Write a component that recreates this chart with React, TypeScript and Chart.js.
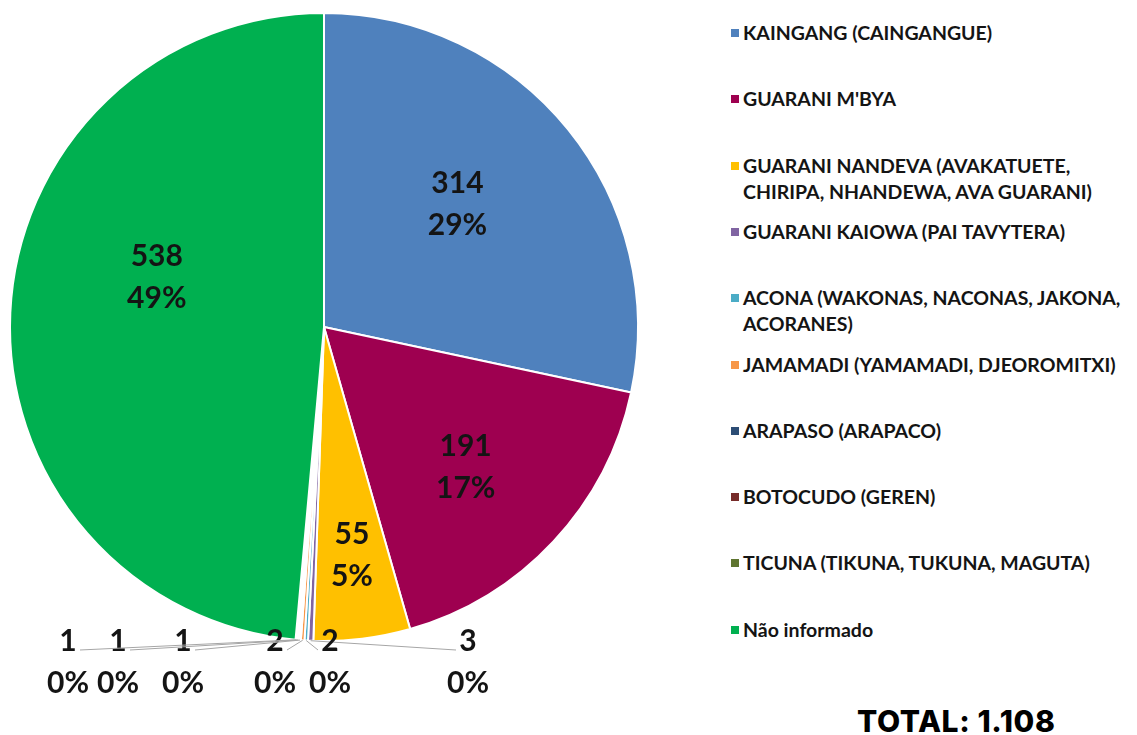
import React, { useEffect, useRef } from "react";
import { Chart, registerables } from "chart.js";

Chart.register(...registerables);

// ---------- data ----------
const categories = [
  "KAINGANG (CAINGANGUE)",
  "GUARANI M'BYA",
  "GUARANI NANDEVA (AVAKATUETE, CHIRIPA, NHANDEWA, AVA GUARANI)",
  "GUARANI KAIOWA (PAI TAVYTERA)",
  "ACONA (WAKONAS, NACONAS, JAKONA, ACORANES)",
  "JAMAMADI (YAMAMADI, DJEOROMITXI)",
  "ARAPASO (ARAPACO)",
  "BOTOCUDO (GEREN)",
  "TICUNA (TIKUNA, TUKUNA, MAGUTA)",
  "Não informado",
];
const values = [314, 191, 55, 3, 2, 2, 1, 1, 1, 538];
const percentLabels = ["29%", "17%", "5%", "0%", "0%", "0%", "0%", "0%", "0%", "49%"];
const sliceColors = [
  "#4F81BD",
  "#9E0050",
  "#FFC000",
  "#8064A2",
  "#4BACC6",
  "#F79646",
  "#2C4D75",
  "#772C2A",
  "#5F7530",
  "#00B050",
];
const totalLabel = "TOTAL: 1.108";

// ---------- layout ----------
const FONT = "Lato, 'Liberation Sans', sans-serif";
const bigLabelShift: Record<number, [number, number]> = {
  0: [-13, -4],
  1: [4, 12],
  2: [5, 41],
  9: [21, -41],
};
const smallLabelDX: Record<number, number> = {
  3: 144,
  4: 6,
  5: -49,
  6: -141,
  7: -206,
  8: -256,
};

const labelPlugin = {
  id: "sliceLabels",
  afterDatasetsDraw(chart: any) {
    const ctx = chart.ctx as CanvasRenderingContext2D;
    const meta = chart.getDatasetMeta(0);
    ctx.save();
    ctx.font = `bold 30px ${FONT}`;
    ctx.textAlign = "center";
    ctx.textBaseline = "middle";
    meta.data.forEach((arc: any, i: number) => {
      const { x, y, startAngle, endAngle, outerRadius } = arc.getProps(
        ["x", "y", "startAngle", "endAngle", "outerRadius"],
        true
      );
      const mid = (startAngle + endAngle) / 2;
      if (bigLabelShift[i]) {
        const [sx, sy] = bigLabelShift[i];
        const lx = x + Math.cos(mid) * outerRadius * 0.6 + sx;
        const ly = y + Math.sin(mid) * outerRadius * 0.6 + sy;
        ctx.fillStyle = "#141414";
        ctx.fillText(String(values[i]), lx, ly - 21);
        ctx.fillText(percentLabels[i], lx, ly + 21);
      } else if (smallLabelDX[i] !== undefined) {
        const px = x + Math.cos(mid) * outerRadius;
        const py = y + Math.sin(mid) * outerRadius;
        const tx = x + smallLabelDX[i];
        const lineY = y + outerRadius + 9;
        const endX = tx < px ? tx + 12 : tx - 12;
        ctx.strokeStyle = "#A6A6A6";
        ctx.lineWidth = 1;
        ctx.beginPath();
        ctx.moveTo(px, py);
        ctx.lineTo(endX, lineY);
        ctx.stroke();
        ctx.fillStyle = "#141414";
        ctx.fillText(String(values[i]), tx, y + outerRadius);
        ctx.fillText(percentLabels[i], tx, y + outerRadius + 42);
      }
    });
    ctx.restore();
  },
};

export default function App() {
  const canvasRef = useRef<HTMLCanvasElement | null>(null);

  useEffect(() => {
    if (!canvasRef.current) return;
    const chart = new Chart(canvasRef.current, {
      type: "pie",
      data: {
        labels: categories,
        datasets: [
          {
            data: values,
            backgroundColor: sliceColors,
            borderColor: "#ffffff",
            borderWidth: 2,
            hoverOffset: 0,
            offset: 0,
          },
        ],
      },
      options: {
        animation: false,
        responsive: true,
        maintainAspectRatio: false,
        layout: { padding: { left: 9, top: 12, right: 21, bottom: 93 } },
        plugins: {
          legend: { display: false },
          tooltip: { enabled: false },
        },
      },
      plugins: [labelPlugin],
    });
    return () => chart.destroy();
  }, []);

  return (
    <div
      style={{
        position: "absolute",
        left: 0,
        top: 0,
        width: 1137,
        height: 735,
        background: "#ffffff",
        overflow: "hidden",
        fontFamily: FONT,
      }}
    >
      <div style={{ position: "absolute", left: 0, top: 0, width: 660, height: 735 }}>
        <canvas ref={canvasRef} />
      </div>
      {categories.map((c, i) => (
        <div
          key={c}
          style={{
            position: "absolute",
            left: 731,
            top: 33 + 66.3 * i - 13,
            width: 400,
            display: "flex",
            alignItems: "flex-start",
          }}
        >
          <div
            style={{
              width: 8,
              height: 8,
              marginTop: 9,
              background: sliceColors[i],
              flex: "0 0 auto",
            }}
          />
          <div
            style={{
              marginLeft: 4,
              width: 380,
              fontSize: 19.5,
              fontWeight: 700,
              lineHeight: "26px",
              color: "#141414",
            }}
          >
            {c}
          </div>
        </div>
      ))}
      <div
        style={{
          position: "absolute",
          left: 857,
          top: 706,
          fontFamily: "Inter, 'Open Sans', sans-serif",
          fontWeight: 800,
          fontSize: 30,
          letterSpacing: 0.6,
          lineHeight: "30px",
          color: "#000000",
          whiteSpace: "nowrap",
        }}
      >
        {totalLabel}
      </div>
    </div>
  );
}
